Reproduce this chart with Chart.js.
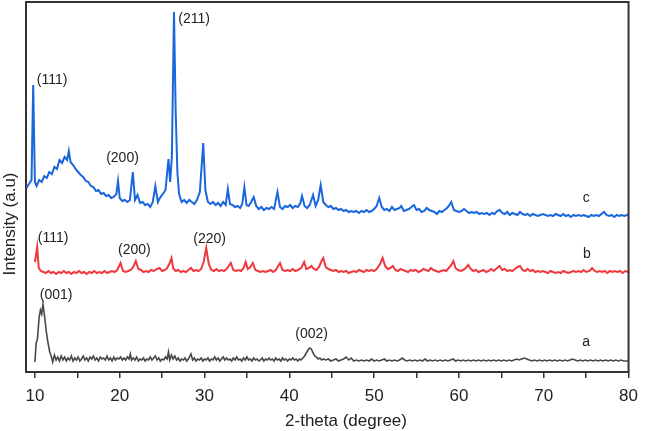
<!DOCTYPE html>
<html>
<head>
<meta charset="utf-8">
<script src="https://cdn.jsdelivr.net/npm/chart.js@4/dist/chart.umd.min.js"></script>
<style>
  html, body { margin: 0; padding: 0; background: #fff; }
  #wrap { width: 646px; height: 431px; }
</style>
</head>
<body>
<div id="wrap"><canvas id="xrd"></canvas></div>
<script>
// sample c (blue)
const cTheta = [9.0,9.3,9.6,9.8,10.0,10.2,10.5,10.8,11.1,11.4,11.7,12.0,12.3,12.6,12.9,13.2,13.5,13.8,14.0,14.2,14.5,14.8,15.1,15.4,15.7,16.0,16.3,16.6,16.9,17.2,17.5,17.8,18.1,18.4,18.7,19.0,19.3,19.6,19.8,20.0,20.3,20.6,20.9,21.2,21.55,21.8,22.1,22.4,22.7,23.0,23.3,23.6,23.9,24.2,24.5,24.8,25.1,25.4,25.6,25.75,25.95,26.15,26.4,26.6,26.8,27.0,27.3,27.6,27.9,28.2,28.5,28.8,29.1,29.45,29.85,30.1,30.4,30.7,31.0,31.3,31.6,31.9,32.2,32.5,32.75,33.0,33.3,33.6,33.9,34.2,34.45,34.7,34.95,35.2,35.5,35.8,36.1,36.4,36.7,37.0,37.3,37.6,37.9,38.2,38.6,38.9,39.2,39.5,39.8,40.1,40.4,40.7,41.0,41.3,41.5,41.8,42.1,42.4,42.8,43.1,43.4,43.7,44.0,44.3,44.6,44.9,45.2,45.5,45.8,46.1,46.4,46.7,47.0,47.3,47.6,47.9,48.2,48.5,48.8,49.1,49.4,49.7,50.0,50.3,50.6,50.9,51.2,51.5,51.8,52.1,52.4,52.7,53.0,53.2,53.5,53.8,54.1,54.4,54.7,55.0,55.3,55.6,55.9,56.2,56.5,56.8,57.1,57.4,57.7,58.0,58.3,58.6,58.8,59.1,59.4,59.7,60.0,60.3,60.6,60.9,61.2,61.5,61.8,62.1,62.4,62.7,63.0,63.3,63.6,63.9,64.2,64.5,64.8,65.1,65.4,65.7,66.0,66.3,66.6,66.9,67.2,67.5,67.8,68.1,68.4,68.7,69.0,69.3,69.6,69.9,70.2,70.5,70.8,71.1,71.4,71.7,72.0,72.3,72.6,72.9,73.2,73.5,73.8,74.1,74.4,74.7,75.0,75.3,75.6,75.9,76.2,76.5,76.8,77.1,77.4,77.7,78.0,78.3,78.6,78.9,79.2,79.5,79.8,80.0];
const cIntensity = [184,188,192,287,190,186,192,190,196,194,200,198,205,203,212,209,215,212,221,210,207,203,200,197,195,191,190,186,185,181,182,178,179,176,177,174,175,178,191,174,171,172,170,172,200,172,177,169,170,167,168,165,170,186,170,175,178,182,200,213,190,215,360,260,200,178,170,172,169,172,170,168,172,180,229,182,170,168,170,167,169,166,170,167,183,168,167,165,166,164,168,185,167,166,170,175,166,163,165,162,164,163,165,163,180,165,163,166,165,167,164,166,165,169,176,166,164,167,177,166,172,187,170,167,165,166,163,164,162,163,161,162,160,161,160,161,159,161,160,162,160,161,163,166,174,165,162,163,161,165,162,163,164,166,161,162,163,165,167,162,163,160,161,164,162,161,160,158,161,160,162,164,166,170,162,161,160,161,163,161,159,160,159,160,158,159,158,159,157,159,158,161,162,159,158,160,157,159,158,157,160,158,157,158,156,158,157,156,157,158,157,156,157,156,158,157,156,158,156,157,155,157,156,157,156,157,156,155,157,156,157,156,158,160,157,156,157,155,157,156,157,156,157,157];

// sample b (red)
const bTheta = [10.0,10.15,10.27,10.45,10.7,11.0,11.3,11.6,11.9,12.2,12.5,12.8,13.1,13.4,13.7,14.0,14.3,14.6,14.9,15.2,15.5,15.8,16.1,16.4,16.7,17.0,17.3,17.6,17.9,18.2,18.5,18.8,19.1,19.4,19.7,20.1,20.4,20.7,21.0,21.3,21.6,21.9,22.2,22.5,22.8,23.1,23.4,23.7,24.0,24.4,24.7,25.0,25.3,25.6,25.9,26.1,26.3,26.6,26.9,27.2,27.5,27.8,28.1,28.4,28.7,29.0,29.3,29.6,29.9,30.2,30.5,30.8,31.1,31.4,31.7,32.0,32.3,32.6,33.1,33.4,33.7,34.0,34.3,34.6,34.85,35.1,35.4,35.7,36.0,36.3,36.6,36.9,37.2,37.5,37.8,38.1,38.4,38.9,39.2,39.5,39.8,40.1,40.4,40.7,41.0,41.4,41.75,42.0,42.3,42.6,42.9,43.2,43.5,43.8,44.0,44.3,44.6,44.9,45.2,45.5,45.8,46.1,46.4,46.7,47.0,47.3,47.6,47.9,48.2,48.5,48.8,49.1,49.4,49.7,50.0,50.3,50.7,51.0,51.3,51.6,51.9,52.2,52.5,52.8,53.1,53.4,53.7,54.0,54.3,54.6,54.9,55.2,55.5,55.8,56.1,56.4,56.7,57.0,57.3,57.6,57.9,58.2,58.5,58.8,59.1,59.35,59.6,59.9,60.2,60.5,60.8,61.1,61.4,61.7,62.0,62.3,62.6,62.9,63.2,63.5,63.8,64.1,64.5,64.8,65.1,65.4,65.7,66.0,66.3,66.6,66.9,67.2,67.5,67.8,68.1,68.4,68.7,69.0,69.3,69.6,69.9,70.2,70.5,70.8,71.1,71.4,71.7,72.0,72.3,72.6,72.9,73.2,73.5,73.8,74.1,74.4,74.7,75.0,75.4,75.7,76.0,76.3,76.6,76.9,77.2,77.5,77.8,78.1,78.4,78.7,79.0,79.3,79.6,80.0];
const bIntensity = [110,118,125,104,101,100,99,101,99,100,98,100,99,101,99,100,98,100,99,101,99,100,98,100,99,101,99,100,99,101,99,100,101,100,102,109,101,100,101,102,105,111,103,102,100,101,100,102,101,103,104,101,102,104,109,114,104,101,102,100,101,100,102,104,101,102,101,103,110,124,108,102,101,103,101,102,101,103,109,102,101,102,101,104,110,103,105,109,102,101,100,101,100,101,102,100,102,109,102,101,102,101,103,101,102,104,110,103,104,106,103,102,105,111,114,105,103,102,101,102,100,101,100,101,99,100,101,100,102,101,100,102,101,102,101,103,108,114,106,103,104,106,102,101,103,102,101,100,102,101,102,100,101,103,102,101,104,102,101,100,101,102,101,104,107,111,104,102,101,102,104,107,103,101,102,100,101,102,100,101,103,101,104,106,102,103,101,102,101,103,105,106,102,101,103,101,102,100,101,100,101,100,99,101,100,99,100,99,101,100,99,100,101,100,101,100,102,100,101,104,101,100,101,100,101,99,101,100,101,100,101,99,101,100];

// sample a (grey)
const aTheta = [10.0,10.15,10.3,10.5,10.65,10.8,10.95,11.15,11.35,11.55,11.75,11.95,12.1,12.3,12.5,12.7,12.9,13.1,13.3,13.5,13.7,13.9,14.1,14.3,14.5,14.7,14.9,15.1,15.3,15.5,15.7,15.9,16.1,16.3,16.5,16.7,16.9,17.1,17.3,17.5,17.7,17.9,18.1,18.3,18.5,18.7,18.9,19.1,19.3,19.5,19.7,19.9,20.1,20.3,20.5,20.7,20.9,21.1,21.25,21.4,21.6,21.8,22.0,22.2,22.4,22.6,22.8,23.0,23.2,23.4,23.6,23.8,24.0,24.2,24.4,24.6,24.8,25.0,25.2,25.4,25.6,25.75,25.9,26.1,26.3,26.5,26.7,26.9,27.1,27.3,27.5,27.7,27.9,28.1,28.4,28.6,28.8,29.0,29.2,29.4,29.6,29.8,30.0,30.2,30.4,30.6,30.8,31.0,31.2,31.4,31.6,31.8,32.0,32.2,32.4,32.6,32.8,33.0,33.2,33.4,33.6,33.8,34.0,34.2,34.4,34.6,34.8,35.0,35.2,35.4,35.6,35.8,36.0,36.2,36.4,36.6,36.8,37.0,37.2,37.4,37.6,37.8,38.0,38.2,38.4,38.6,38.8,39.0,39.2,39.4,39.6,39.8,40.0,40.2,40.4,40.6,40.8,41.0,41.2,41.4,41.6,41.8,42.0,42.2,42.4,42.6,42.8,43.0,43.2,43.4,43.6,43.8,44.0,44.3,44.6,44.9,45.2,45.5,45.8,46.1,46.4,46.7,47.0,47.3,47.6,47.9,48.2,48.5,48.8,49.1,49.4,49.7,50.0,50.3,50.6,50.9,51.2,51.5,51.8,52.1,52.4,52.7,53.0,53.3,53.6,53.9,54.2,54.5,54.8,55.1,55.4,55.7,56.0,56.3,56.6,56.9,57.2,57.5,57.8,58.1,58.4,58.7,59.0,59.3,59.6,59.9,60.2,60.5,60.8,61.1,61.4,61.7,62.0,62.3,62.6,62.9,63.2,63.5,63.8,64.1,64.4,64.7,65.0,65.3,65.6,65.9,66.2,66.5,66.8,67.1,67.4,67.7,68.0,68.3,68.6,68.9,69.2,69.5,69.8,70.1,70.4,70.7,71.0,71.3,71.6,71.9,72.2,72.5,72.8,73.1,73.4,73.7,74.0,74.3,74.6,74.9,75.2,75.5,75.8,76.1,76.4,76.7,77.0,77.3,77.6,77.9,78.2,78.5,78.8,79.1,79.4,79.7,80.0];
const aIntensity = [10,29,33,55,62,58,68,55,40,29,20,15,10,17,12,15,11,16,12,15,11,14,12,16,11,14,12,15,11,13,16,12,14,11,15,13,16,12,14,11,15,13,14,12,16,12,14,11,15,12,14,13,15,12,14,12,15,13,18,12,14,12,15,11,13,12,14,11,13,12,15,12,14,16,12,14,11,13,12,15,13,20,12,17,13,16,12,14,11,13,12,14,11,13,18,12,14,11,13,12,14,11,13,12,14,11,13,12,15,12,14,11,13,15,12,14,12,13,11,14,12,15,12,13,11,14,12,15,12,13,11,14,12,13,11,12,14,11,13,12,14,12,13,11,14,12,13,11,14,12,13,11,13,12,14,12,13,11,13,12,14,16,19,22,24,23,19,16,15,13,14,12,13,12,13,11,12,13,11,12,13,15,12,14,11,12,11,12,11,12,11,13,11,12,11,12,13,11,12,11,12,11,12,14,12,11,12,11,12,11,12,11,13,11,12,11,12,11,12,11,12,11,12,13,11,12,11,12,11,12,11,12,11,12,11,12,11,12,11,12,11,12,11,12,11,12,11,12,13,12,13,14,13,12,11,12,11,12,11,12,11,12,11,12,11,12,11,12,11,12,13,12,11,12,11,12,11,12,11,12,11,12,11,12,11,12,11,12,11,12,11,11,11];

// peak / curve labels
const peakLabels = ['(111)', '(211)', '(200)', 'c', '(111)', '(200)', '(220)', 'b', '(001)', '(002)', 'a'];
const peakLabelTheta = [10.23, 26.9, 18.4, 75.0, 10.35, 19.8, 28.67, 75.1, 10.58, 40.7, 75.0];
const peakLabelIntensity = [292, 353, 214, 174, 134, 122, 133, 118, 77, 38, 30];
const peakLabelCentered = [false, false, false, true, false, false, false, true, false, false, true];

// x ticks: marks every 5 degrees, numbers every 10
const xTickValues = [10, 15, 20, 25, 30, 35, 40, 45, 50, 55, 60, 65, 70, 75, 80];
const xTickLabels = [10, 20, 30, 40, 50, 60, 70, 80];

function toPoints(xs, ys) {
  return xs.map((x, i) => ({ x: x, y: ys[i] }));
}

const FONT = "'Liberation Sans', Arial, sans-serif";

const framePlugin = {
  id: 'frame',
  afterDraw(chart) {
    const ctx = chart.ctx;
    const area = chart.chartArea;
    const xs = chart.scales.x;
    const ys = chart.scales.y;
    ctx.save();
    // top and right sides of the box
    ctx.strokeStyle = '#333';
    ctx.lineWidth = 2;
    ctx.beginPath();
    ctx.moveTo(area.left, area.top);
    ctx.lineTo(area.right, area.top);
    ctx.lineTo(area.right, area.bottom);
    ctx.stroke();

    // peak labels
    ctx.fillStyle = '#222';
    ctx.font = '14px ' + FONT;
    ctx.textBaseline = 'middle';
    for (let i = 0; i < peakLabels.length; ++i) {
      ctx.textAlign = peakLabelCentered[i] ? 'center' : 'left';
      ctx.fillText(peakLabels[i], xs.getPixelForValue(peakLabelTheta[i]), ys.getPixelForValue(peakLabelIntensity[i]));
    }

    // axis titles
    ctx.font = '17px ' + FONT;
    ctx.textAlign = 'center';
    ctx.fillText('2-theta (degree)', 346, 421);
    ctx.translate(10, 224);
    ctx.rotate(-Math.PI / 2);
    ctx.fillText('Intensity (a.u)', 0, 0);
    ctx.restore();
  }
};

const chart = new Chart(document.getElementById('xrd'), {
  type: 'line',
  data: {
    datasets: [{
      label: 'c',
      data: toPoints(cTheta, cIntensity),
      borderColor: '#1a66dc',
      borderWidth: 2
    }, {
      label: 'b',
      data: toPoints(bTheta, bIntensity),
      borderColor: '#f0383d',
      borderWidth: 2
    }, {
      label: 'a',
      data: toPoints(aTheta, aIntensity),
      borderColor: '#484848',
      borderWidth: 1.6
    }]
  },
  options: {
    responsive: true,
    maintainAspectRatio: false,
    animation: false,
    layout: { padding: { top: 2, right: 11, left: 0, bottom: 0 } },
    elements: { point: { radius: 0 }, line: { tension: 0 } },
    plugins: { legend: { display: false }, tooltip: { enabled: false } },
    scales: {
      x: {
        type: 'linear',
        min: 8.95,
        max: 80,
        afterBuildTicks(scale) {
          scale.ticks = xTickValues.map(v => ({ value: v }));
        },
        afterFit(scale) { scale.height = 59; },
        ticks: {
          autoSkip: false,
          maxRotation: 0,
          padding: 8,
          color: '#222',
          font: { family: FONT, size: 17 },
          callback: v => xTickLabels.includes(v) ? String(v) : ''
        },
        grid: { drawOnChartArea: false, drawTicks: true, tickLength: 6, color: '#333', lineWidth: 1.5 },
        border: { display: true, color: '#333', width: 2 }
      },
      y: {
        min: 0,
        max: 370,
        afterFit(scale) { scale.width = 26; },
        ticks: { display: false },
        grid: { display: false },
        border: { display: true, color: '#333', width: 2 }
      }
    }
  },
  plugins: [framePlugin]
});
</script>
</body>
</html>
